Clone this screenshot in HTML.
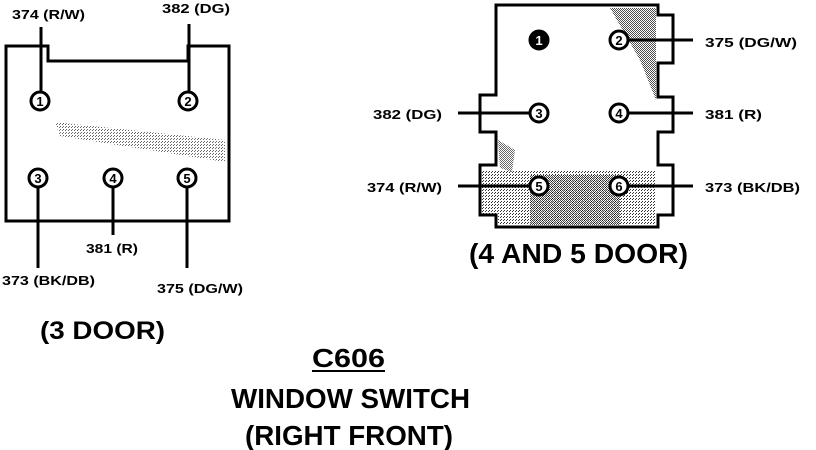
<!DOCTYPE html>
<html><head><meta charset="utf-8"><style>html,body{margin:0;padding:0;background:#fff}svg{display:block}</style></head>
<body>
<svg width="816" height="450" viewBox="0 0 816 450" xmlns="http://www.w3.org/2000/svg" font-family="Liberation Sans, sans-serif" font-weight="bold">
<defs>
<pattern id="st" width="3" height="3" patternUnits="userSpaceOnUse"><rect width="3" height="3" fill="#fff"/><rect width="1" height="1" fill="#000"/><rect x="2" y="1" width="1" height="1" fill="#000"/></pattern>
<pattern id="st2" width="2" height="2" patternUnits="userSpaceOnUse"><rect width="2" height="2" fill="#fff"/><rect width="1" height="1" fill="#000"/><rect x="1" y="1" width="1" height="1" fill="#000"/></pattern>
</defs>
<!-- left box -->
<path d="M55,122 L225,140 L225,162 L60,136 Z" fill="url(#st)" opacity="0.6"/>
<path d="M6,46 H48 V61 H188 V46 H229 V221 H6 Z" fill="none" stroke="#000" stroke-width="3"/>
<g stroke="#000" stroke-width="3" fill="#fff">
<line x1="41" y1="27" x2="41" y2="92"/>
<line x1="189" y1="24" x2="189" y2="92"/>
<line x1="38" y1="187" x2="38" y2="268"/>
<line x1="113" y1="187" x2="113" y2="235"/>
<line x1="187" y1="187" x2="187" y2="268"/>
<circle cx="40" cy="101" r="9"/><circle cx="188" cy="101" r="9"/>
<circle cx="38" cy="178" r="9"/><circle cx="113" cy="178" r="9"/><circle cx="187" cy="178" r="9"/>
</g>
<g font-size="13" text-anchor="middle">
<text x="40" y="106">1</text><text x="188" y="106">2</text>
<text x="38" y="183">3</text><text x="113" y="183">4</text><text x="187" y="183">5</text>
</g>
<g font-size="13" fill="#000" lengthAdjust="spacingAndGlyphs">
<text x="12" y="19" textLength="73" lengthAdjust="spacingAndGlyphs">374 (R/W)</text>
<text x="162" y="13" textLength="68" lengthAdjust="spacingAndGlyphs">382 (DG)</text>
<text x="86" y="253" textLength="52" lengthAdjust="spacingAndGlyphs">381 (R)</text>
<text x="2" y="285" textLength="93" lengthAdjust="spacingAndGlyphs">373 (BK/DB)</text>
<text x="157" y="293" textLength="86" lengthAdjust="spacingAndGlyphs">375 (DG/W)</text>
</g>
<text x="40" y="339" font-size="25" textLength="125" lengthAdjust="spacingAndGlyphs">(3 DOOR)</text>
<!-- right box -->
<path d="M610,8 H656 V100 L640,60 Z" fill="url(#st2)" opacity="0.7"/>
<path d="M482,170 H656 V225 H498 V214 H482 Z" fill="url(#st)" opacity="0.8"/>
<path d="M530,175 H620 V225 H530 Z" fill="url(#st2)" opacity="0.7"/>
<path d="M498,140 L515,150 L512,172 L500,168 Z" fill="url(#st2)" opacity="0.6"/>
<path d="M496,5 H658 V15 H673 V63 H658 V97 H673 V132 H658 V165 H673 V215 H658 V227 H496 V215 H480 V165 H496 V132 H480 V95 H496 Z" fill="none" stroke="#000" stroke-width="3"/>
<g stroke="#000" stroke-width="3" fill="#fff">
<line x1="619" y1="40" x2="693" y2="40"/>
<line x1="458" y1="113" x2="539" y2="113"/>
<line x1="619" y1="113" x2="693" y2="113"/>
<line x1="458" y1="186" x2="539" y2="186"/>
<line x1="619" y1="186" x2="693" y2="186"/>
<circle cx="539" cy="40" r="9" fill="#000"/>
<circle cx="619" cy="40" r="9"/><circle cx="539" cy="113" r="9"/><circle cx="619" cy="113" r="9"/>
<circle cx="539" cy="186" r="9"/><circle cx="619" cy="186" r="9"/>
</g>
<g font-size="13" text-anchor="middle">
<text x="539" y="45" fill="#fff">1</text>
<text x="619" y="45">2</text><text x="539" y="118">3</text><text x="619" y="118">4</text>
<text x="539" y="191">5</text><text x="619" y="191">6</text>
</g>
<g font-size="13" fill="#000">
<text x="705" y="47" textLength="92" lengthAdjust="spacingAndGlyphs">375 (DG/W)</text>
<text x="373" y="119" textLength="69" lengthAdjust="spacingAndGlyphs">382 (DG)</text>
<text x="705" y="119" textLength="57" lengthAdjust="spacingAndGlyphs">381 (R)</text>
<text x="367" y="192" textLength="75" lengthAdjust="spacingAndGlyphs">374 (R/W)</text>
<text x="705" y="192" textLength="95" lengthAdjust="spacingAndGlyphs">373 (BK/DB)</text>
</g>
<text x="469" y="263" font-size="28" textLength="219" lengthAdjust="spacingAndGlyphs">(4 AND 5 DOOR)</text>
<text x="312" y="367" font-size="26" textLength="73" lengthAdjust="spacingAndGlyphs">C606</text>
<line x1="312" y1="371" x2="385" y2="371" stroke="#000" stroke-width="2"/>
<text x="231" y="408" font-size="28" textLength="239" lengthAdjust="spacingAndGlyphs">WINDOW SWITCH</text>
<text x="245" y="445" font-size="28" textLength="208" lengthAdjust="spacingAndGlyphs">(RIGHT FRONT)</text>
</svg>
</body></html>
